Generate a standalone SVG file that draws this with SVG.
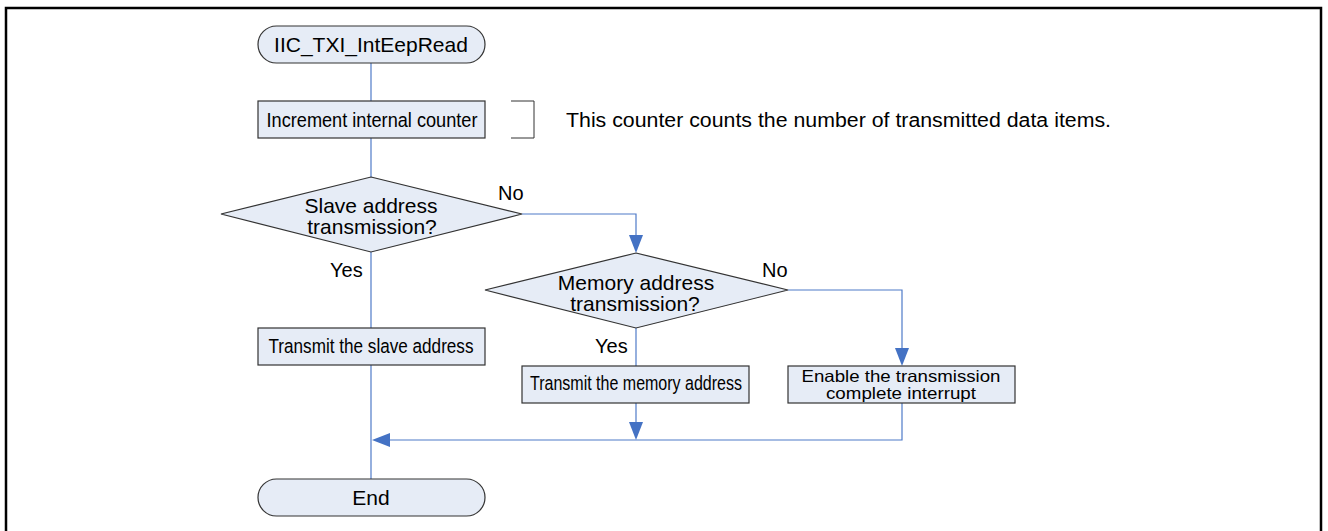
<svg xmlns="http://www.w3.org/2000/svg" width="1328" height="531" viewBox="0 0 1328 531">
<defs>
<style>
.frame{fill:none;stroke:#000;stroke-width:2.5}
.node{fill:#E6ECF6;stroke:#333;stroke-width:1.2}
.conn{fill:none;stroke:#4F7BC8;stroke-width:1.2}
.t{font-family:"Liberation Sans",Arial,sans-serif;font-size:21px;fill:#000;text-anchor:middle}
.n{font-family:"Liberation Sans",Arial,sans-serif;font-size:20.5px;fill:#000;text-anchor:middle}
.l{font-family:"Liberation Sans",Arial,sans-serif;font-size:20px;fill:#000}
.s{font-family:"Liberation Sans",Arial,sans-serif;font-size:16.5px;fill:#000;text-anchor:middle}
</style>
</defs>
<rect width="1328" height="531" fill="#fff"/>
<path class="frame" d="M6,531 L6,8 L1321,8 L1321,531"/>

<g id="connectors">
<path class="conn" d="M371,63 V101"/>
<path class="conn" d="M371,138 V177"/>
<path class="conn" d="M371,252 V328"/>
<path class="conn" d="M371,365 V479"/>
<path class="conn" d="M522,214 H636 V235"/>
<path d="M629,235 L643,235 L636,253 Z" fill="#4472C4"/>
<path class="conn" d="M636,328 V366"/>
<path class="conn" d="M788,290 H902 V348"/>
<path d="M895,348 L909,348 L902,366 Z" fill="#4472C4"/>
<path class="conn" d="M636,403 V422"/>
<path d="M629,422 L643,422 L636,440 Z" fill="#4472C4"/>
<path class="conn" d="M902,403 V440 H390"/>
<path d="M372,440 L390,433 L390,447 Z" fill="#4472C4"/>
<path fill="none" stroke="#333" stroke-width="1" d="M511,101 H534 V138 H511"/>
</g>

<g id="start">
<rect class="node" x="258" y="26" width="227" height="37" rx="18.5"/>
<text class="t" x="371" y="52">IIC_TXI_IntEepRead</text>
</g>
<g id="increment">
<rect class="node" x="258" y="101" width="227" height="37"/>
<text class="n" x="372" y="127" textLength="211" lengthAdjust="spacingAndGlyphs">Increment internal counter</text>
</g>
<g id="comment">
<text class="l" x="566" y="127" textLength="545" lengthAdjust="spacingAndGlyphs">This counter counts the number of transmitted data items.</text>
</g>
<g id="dec1">
<polygon class="node" points="371,177 522,214 371,252 221,214"/>
<text class="t" x="371" y="213">Slave address</text>
<text class="t" x="372" y="234">transmission?</text>
</g>
<g id="label-no1"><text class="l" x="498" y="200">No</text></g>
<g id="label-yes1"><text class="l" x="330" y="277">Yes</text></g>
<g id="slave">
<rect class="node" x="258" y="328" width="227" height="37"/>
<text class="n" x="371" y="353" textLength="205" lengthAdjust="spacingAndGlyphs">Transmit the slave address</text>
</g>
<g id="dec2">
<polygon class="node" points="636,253 788,290 636,328 485,290"/>
<text class="t" x="636" y="290">Memory address</text>
<text class="t" x="635" y="311">transmission?</text>
</g>
<g id="label-no2"><text class="l" x="762" y="277">No</text></g>
<g id="label-yes2"><text class="l" x="595" y="353">Yes</text></g>
<g id="memory">
<rect class="node" x="522" y="366" width="227" height="37"/>
<text class="n" x="636" y="390" font-size="18.5" textLength="212" lengthAdjust="spacingAndGlyphs">Transmit the memory address</text>
</g>
<g id="enable">
<rect class="node" x="788" y="366" width="227" height="37"/>
<text class="s" x="901" y="382" textLength="199" lengthAdjust="spacingAndGlyphs">Enable the transmission</text>
<text class="s" x="901" y="399" textLength="150" lengthAdjust="spacingAndGlyphs">complete interrupt</text>
</g>
<g id="end">
<rect class="node" x="258" y="479" width="227" height="37" rx="18.5"/>
<text class="t" x="371" y="505">End</text>
</g>
</svg>
